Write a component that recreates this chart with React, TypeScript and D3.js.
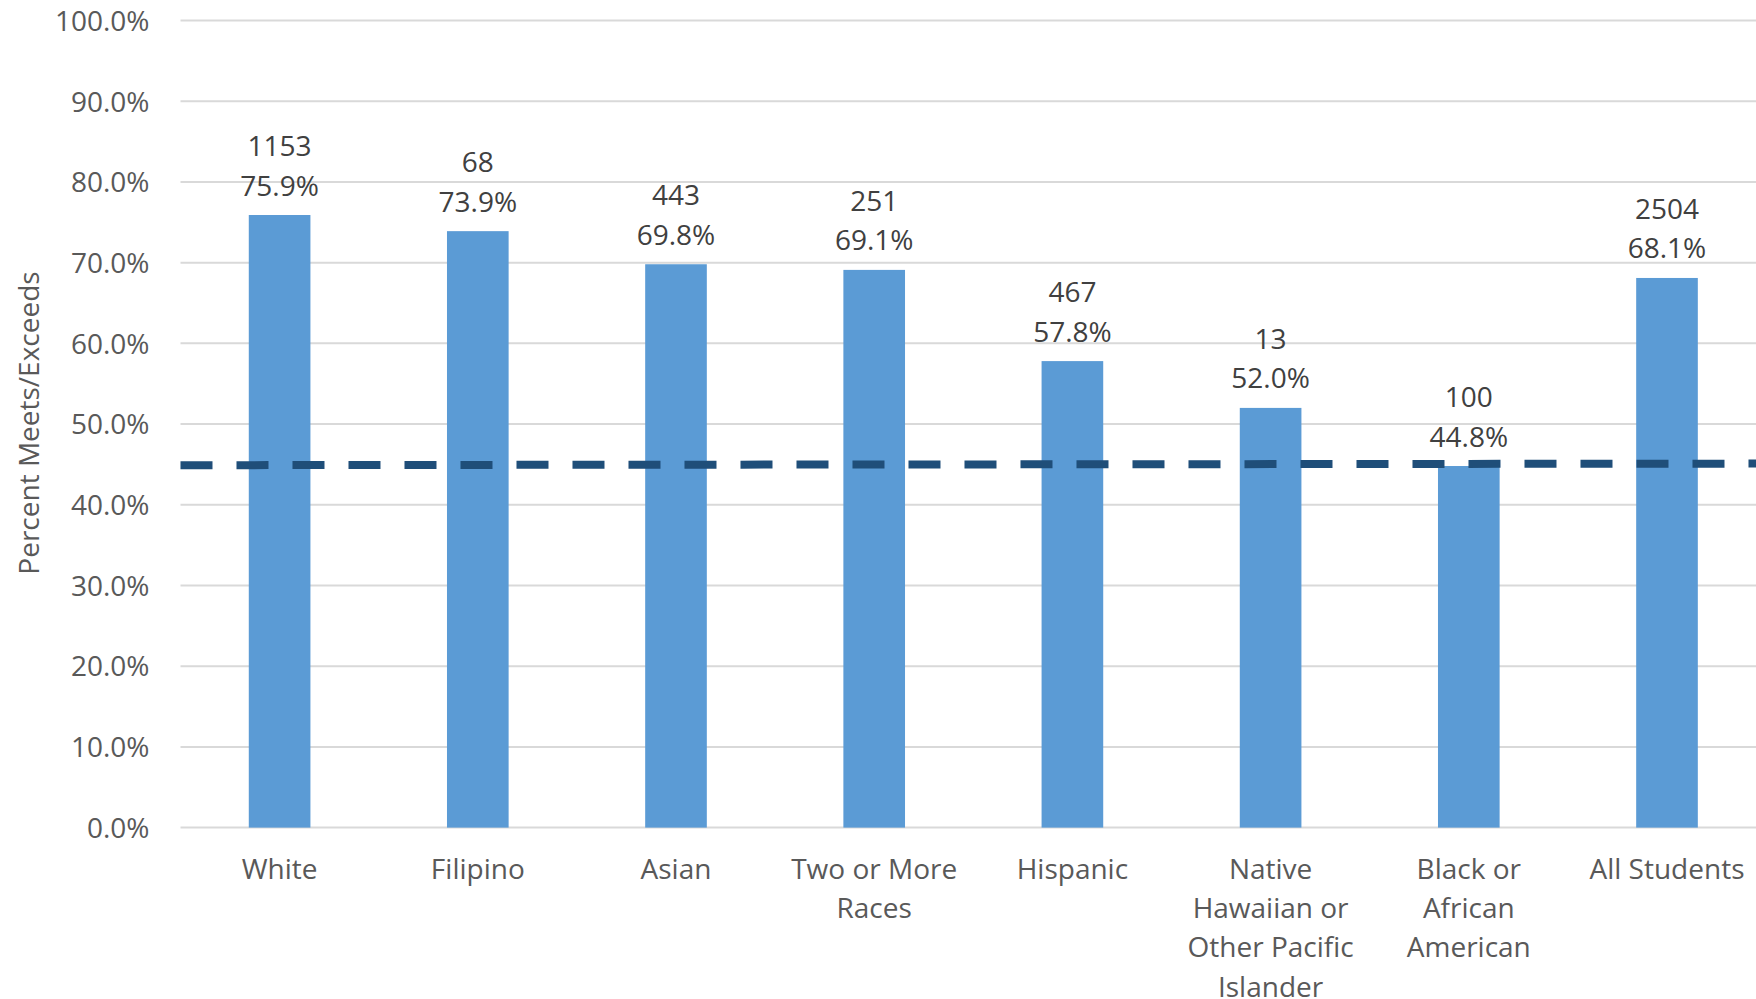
import React from "react";
import * as d3 from "d3";

// Student groups, with label lines as they wrap under the axis
const categoryLines: string[][] = [
  ["White"],
  ["Filipino"],
  ["Asian"],
  ["Two or More", "Races"],
  ["Hispanic"],
  ["Native", "Hawaiian or", "Other Pacific", "Islander"],
  ["Black or", "African", "American"],
  ["All Students"],
];
const categories = categoryLines.map((l) => l.join(" "));

// Percent meeting or exceeding the standard
const percentValues = [75.9, 73.9, 69.8, 69.1, 57.8, 52.0, 44.8, 68.1];
// Number of students in each group
const studentCounts = [1153, 68, 443, 251, 467, 13, 100, 2504];

// Comparison line (start and end of the dashed reference)
const referenceLine = [44.9, 45.1];

const yTicks = [0, 10, 20, 30, 40, 50, 60, 70, 80, 90, 100];

const W = 1756;
const H = 999;
const plotLeft = 180.5;
const plotRight = 180.5 + 8 * 198.2;
const plotTop = 20.5;
const plotBottom = 827.6;

const FONT = "'Open Sans', 'Liberation Sans', sans-serif";

export default function App() {
  const x = d3
    .scaleBand<string>()
    .domain(categories)
    .range([plotLeft, plotRight])
    .paddingInner(0.689)
    .paddingOuter(0.689 / 2);
  const y = d3.scaleLinear().domain([0, 100]).range([plotBottom, plotTop]);
  const xLine = d3.scaleLinear().domain([0, 1]).range([plotLeft, plotRight]);

  const refPath = d3
    .line<number>()
    .x((_, i) => xLine(i / (referenceLine.length - 1)))
    .y((d) => y(d))(referenceLine);

  return (
    <svg
      width={W}
      height={H}
      style={{ position: "absolute", left: 0, top: 0, background: "#fff" }}
      fontFamily={FONT}
    >
      {/* gridlines */}
      {yTicks.map((t) => (
        <line
          key={"g" + t}
          x1={plotLeft}
          x2={plotRight}
          y1={y(t)}
          y2={y(t)}
          stroke="#D9D9D9"
          strokeWidth={2}
        />
      ))}
      {/* y tick labels */}
      {yTicks.map((t) => (
        <text
          key={"t" + t}
          x={149.5}
          y={y(t) + 10.3}
          textAnchor="end"
          fontSize={28}
          fill="#595959"
        >
          {t.toFixed(1) + "%"}
        </text>
      ))}
      {/* y axis title */}
      <text
        transform={`translate(28,423) rotate(-90)`}
        textAnchor="middle"
        dominantBaseline="central"
        fontSize={28}
        fill="#595959"
      >
        Percent Meets/Exceeds
      </text>
      {/* bars */}
      {categories.map((c, i) => (
        <rect
          key={"b" + c}
          x={x(c)}
          y={y(percentValues[i])}
          width={x.bandwidth()}
          height={y(0) - y(percentValues[i])}
          fill="#5B9BD5"
        />
      ))}
      {/* dashed reference line */}
      <path
        d={refPath || ""}
        fill="none"
        stroke="#1F4E79"
        strokeWidth={8}
        strokeDasharray="32 24"
      />
      {/* data labels: count above percent */}
      {categories.map((c, i) => {
        const cx = (x(c) as number) + x.bandwidth() / 2;
        const top = y(percentValues[i]);
        return (
          <g key={"l" + c} fontSize={28} fill="#404040" textAnchor="middle">
            <text x={cx} y={top - 59}>
              {studentCounts[i]}
            </text>
            <text x={cx} y={top - 19.5}>
              {percentValues[i].toFixed(1) + "%"}
            </text>
          </g>
        );
      })}
      {/* category labels */}
      {categories.map((c, i) => {
        const cx = (x(c) as number) + x.bandwidth() / 2;
        return (
          <text
            key={"c" + c}
            x={cx}
            y={879}
            textAnchor="middle"
            fontSize={28}
            fill="#595959"
          >
            {categoryLines[i].map((ln, j) => (
              <tspan key={j} x={cx} y={879 + j * 39.2}>
                {ln}
              </tspan>
            ))}
          </text>
        );
      })}
    </svg>
  );
}
